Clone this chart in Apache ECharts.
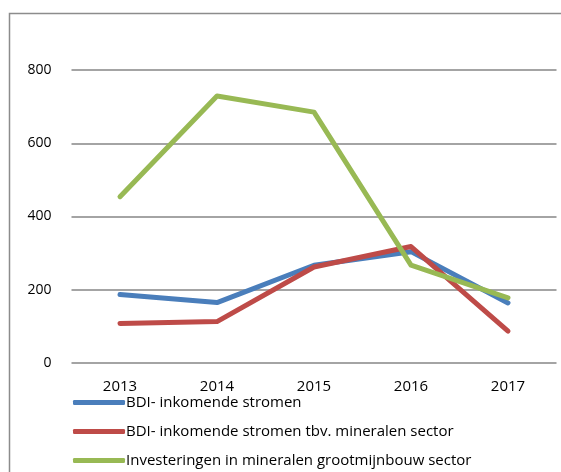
<!DOCTYPE html>
<html>
<head>
<meta charset="utf-8">
<script src="https://cdn.jsdelivr.net/npm/echarts@6/dist/echarts.min.js"></script>
<style>
  html, body { margin: 0; padding: 0; background: #fff; }
  #chart { width: 561px; height: 472px; }
</style>
</head>
<body>
<div id="chart"></div>
<script>
// jaren
const years = ['2013', '2014', '2015', '2016', '2017'];
// waarden per reeks
const bdiInkomend = [187, 165, 267, 304, 164];
const bdiMineralen = [108, 113, 262, 318, 87];
const investeringen = [454, 729, 685, 267, 178];

const chart = echarts.init(document.getElementById('chart'));
const fontFam = '"Open Sans", sans-serif';

const option = {
  backgroundColor: '#fff',
  animation: false,
  graphic: [{
    type: 'rect',
    shape: { x: 9.5, y: 13.5, width: 560, height: 470 },
    style: { fill: 'none', stroke: '#8c8c8c', lineWidth: 1.5 }
  }],
  grid: { left: 71.5, right: 4.5, top: 70, bottom: 109 },
  legend: {
    orient: 'vertical',
    left: 73,
    top: 392,
    height: 200,
    padding: 0,
    itemWidth: 52,
    itemHeight: 5,
    itemGap: 8,
    icon: 'roundRect',
    textStyle: { fontFamily: fontFam, fontSize: 15, lineHeight: 21, color: '#000', padding: [0, 0, 0, -4] },
    data: ['BDI- inkomende stromen', 'BDI- inkomende stromen tbv. mineralen sector', 'Investeringen in mineralen grootmijnbouw sector']
  },
  xAxis: {
    type: 'category',
    data: years,
    boundaryGap: true,
    axisLine: { show: false },
    axisTick: { show: false },
    axisLabel: { color: '#000', fontFamily: fontFam, fontSize: 15, margin: 16 }
  },
  yAxis: {
    type: 'value',
    min: 0,
    max: 800,
    interval: 200,
    axisLine: { show: false },
    axisTick: { show: false },
    axisLabel: { color: '#000', fontFamily: fontFam, fontSize: 14, margin: 20 },
    splitLine: { lineStyle: { color: '#868686', width: 1.5 } }
  },
  series: [
    {
      name: 'BDI- inkomende stromen',
      type: 'line',
      data: bdiInkomend,
      symbol: 'none',
      color: '#4a7ebb',
      lineStyle: { width: 5, cap: 'round', join: 'round' }
    },
    {
      name: 'BDI- inkomende stromen tbv. mineralen sector',
      type: 'line',
      data: bdiMineralen,
      symbol: 'none',
      color: '#be4b48',
      lineStyle: { width: 5, cap: 'round', join: 'round' }
    },
    {
      name: 'Investeringen in mineralen grootmijnbouw sector',
      type: 'line',
      data: investeringen,
      symbol: 'none',
      color: '#98b954',
      lineStyle: { width: 5, cap: 'round', join: 'round' }
    }
  ]
};

chart.setOption(option);
</script>
</body>
</html>
